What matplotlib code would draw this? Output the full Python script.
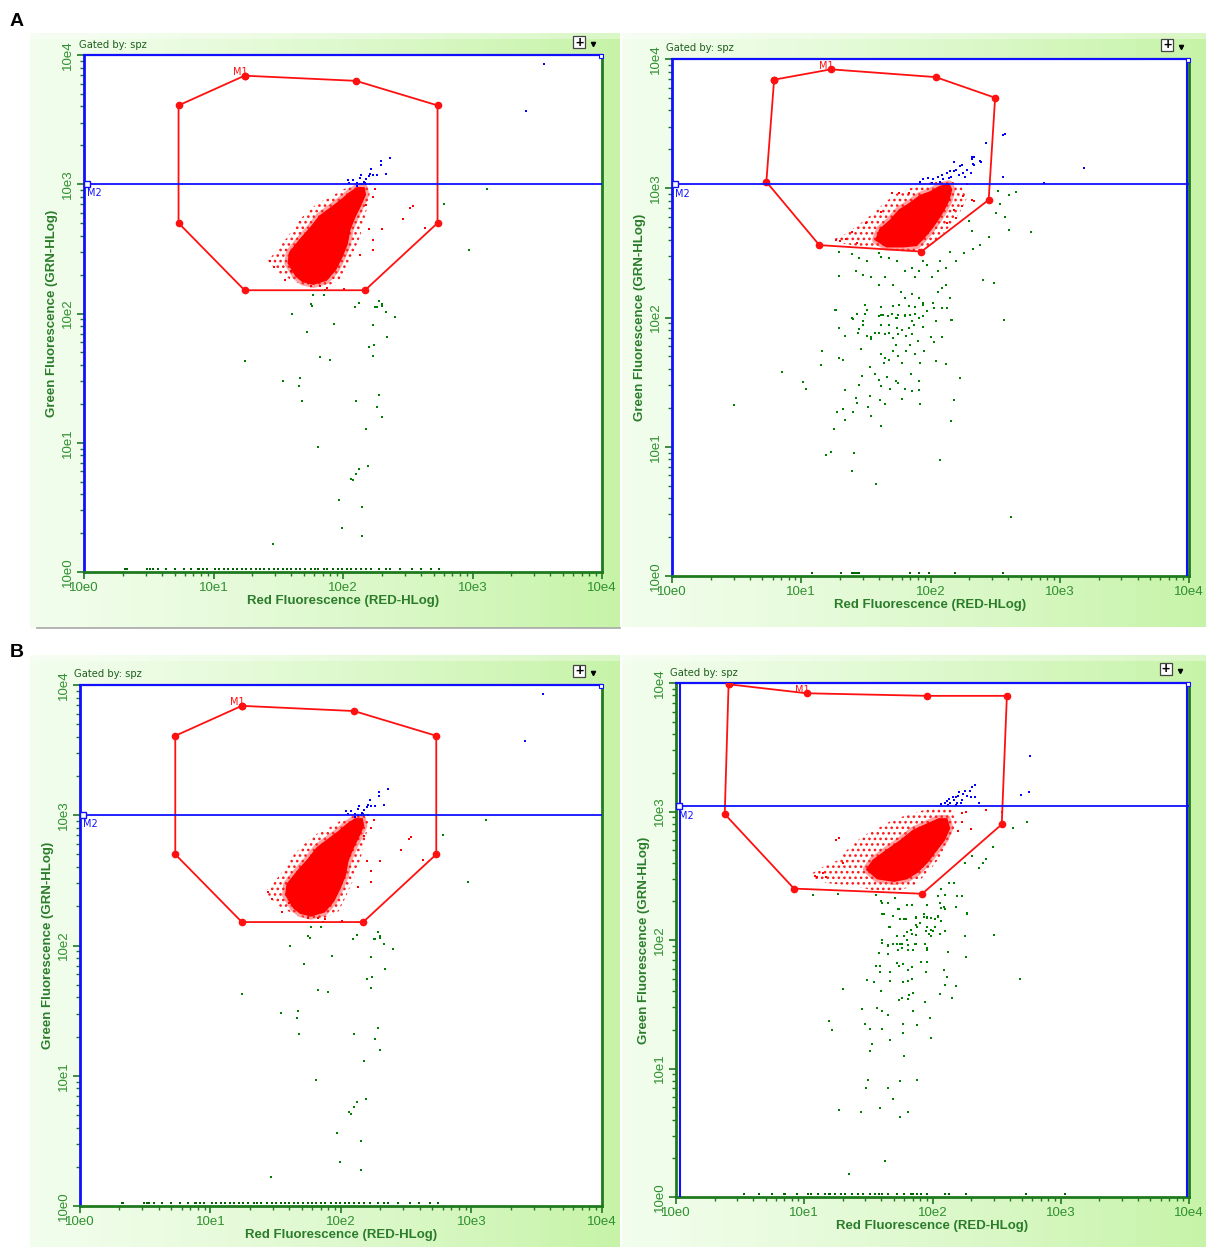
import numpy as np
import matplotlib
matplotlib.use("Agg")
import matplotlib.pyplot as plt
from matplotlib.patches import Polygon, Rectangle

plt.rcParams['font.family'] = ['Liberation Sans', 'DejaVu Sans']
plt.rcParams['hatch.linewidth'] = 1.1

# ---- data: all coordinates in log10 decades (0 = 10e0 ... 4 = 10e4) ----
tick_labels = ['10e0', '10e1', '10e2', '10e3', '10e4']

# panel A left (same acquisition is shown again in B left)
gate_a_left = [(1.24, 3.84), (2.10, 3.80), (2.73, 3.61), (2.73, 2.70),
               (2.17, 2.18), (1.24, 2.18), (0.73, 2.70), (0.73, 3.61)]
m2_a_left = 3.0
core_a_left = [(1.64, 2.29), (1.58, 2.39), (1.59, 2.47), (1.67, 2.57), (1.75, 2.66),
               (1.82, 2.75), (1.90, 2.81), (1.98, 2.87), (2.05, 2.93), (2.11, 2.97),
               (2.16, 2.97), (2.17, 2.92), (2.13, 2.83), (2.09, 2.75), (2.05, 2.65),
               (2.03, 2.54), (1.99, 2.44), (1.94, 2.34), (1.87, 2.26), (1.77, 2.23),
               (1.69, 2.25)]
halo_a_left = [(1.42, 2.41), (1.49, 2.49), (1.57, 2.59), (1.64, 2.70), (1.72, 2.78),
               (1.80, 2.85), (1.90, 2.90), (2.00, 2.96), (2.08, 2.99), (2.16, 3.01),
               (2.21, 2.97), (2.20, 2.88), (2.17, 2.75), (2.13, 2.59), (2.08, 2.47),
               (2.03, 2.36), (1.98, 2.26), (1.87, 2.21), (1.75, 2.20), (1.62, 2.25),
               (1.51, 2.31)]
red_a_left = [(1.75, 2.21), (1.82, 2.21), (1.55, 2.26), (1.44, 2.41), (2.01, 2.19),
              (2.20, 2.65), (2.23, 2.57), (2.23, 2.49), (2.30, 2.65), (2.13, 2.45),
              (2.46, 2.73), (2.52, 2.82), (2.54, 2.83), (2.63, 2.66), (2.23, 2.90),
              (2.25, 2.96), (2.18, 2.84), (1.88, 2.20), (1.60, 2.33), (1.47, 2.36)]
blue_a_left = [(2.04, 3.03), (2.05, 3.01), (2.08, 3.03), (2.11, 3.01), (2.13, 3.05),
               (2.14, 3.07), (2.16, 3.02), (2.17, 3.01), (2.18, 3.04), (2.20, 3.06),
               (2.21, 3.08), (2.22, 3.12), (2.23, 3.07), (2.26, 3.07), (2.29, 3.15),
               (2.29, 3.18), (2.33, 3.08), (2.36, 3.20), (2.11, 2.99), (2.13, 3.00),
               (2.15, 3.00), (2.18, 3.00), (2.21, 3.00), (3.55, 3.93), (3.41, 3.57)]
green_a_left = [(3.11, 2.96), (2.78, 2.85), (2.97, 2.49), (1.86, 2.18), (1.24, 2.17),
                (1.77, 2.14), (1.85, 2.14), (1.76, 2.06), (2.12, 2.08), (2.09, 2.05),
                (2.26, 2.05), (2.28, 2.10), (2.30, 2.06),
                (1.75, 2.07), (1.61, 2.00), (2.25, 2.05), (2.30, 2.07), (2.33, 2.01),
                (2.40, 1.97), (1.72, 1.86), (1.93, 1.92), (2.23, 1.91), (2.34, 1.82),
                (2.20, 1.74), (2.24, 1.76), (2.23, 1.67), (1.82, 1.66), (1.90, 1.64),
                (1.24, 1.63), (1.54, 1.48), (1.67, 1.50), (1.66, 1.44), (1.68, 1.32),
                (2.10, 1.32), (2.28, 1.37), (2.26, 1.28), (2.30, 1.20), (2.18, 1.11),
                (1.81, 0.97), (2.19, 0.82), (2.12, 0.80), (2.10, 0.76), (2.06, 0.72),
                (2.08, 0.71), (1.97, 0.56), (2.15, 0.50), (1.99, 0.34), (2.15, 0.28),
                (1.46, 0.22)]
floor_a_left = [0.32, 0.33, 0.49, 0.51, 0.53, 0.57, 0.63, 0.70, 0.77, 0.83, 0.88, 0.89,
                0.92, 0.95, 1.01, 1.04, 1.08, 1.11, 1.15, 1.18, 1.22, 1.25, 1.29, 1.33,
                1.36, 1.39, 1.43, 1.47, 1.50, 1.54, 1.57, 1.60, 1.64, 1.67, 1.71, 1.75,
                1.78, 1.81, 1.85, 1.88, 1.92, 1.96, 1.99, 2.03, 2.06, 2.10, 2.14, 2.18,
                2.22, 2.28, 2.33, 2.36, 2.44, 2.53, 2.60, 2.68, 2.74]

# panel A right
gate_a_right = [(0.79, 3.84), (1.23, 3.92), (2.04, 3.86), (2.50, 3.70),
                (2.45, 2.91), (1.93, 2.51), (1.14, 2.56), (0.73, 3.05)]
m2_a_right = 3.03
core_a_right = [(1.58, 2.60), (1.61, 2.68), (1.69, 2.75), (1.76, 2.83), (1.84, 2.88),
                (1.92, 2.94), (2.00, 2.97), (2.07, 3.01), (2.14, 3.03), (2.16, 2.99),
                (2.14, 2.91), (2.10, 2.83), (2.05, 2.75), (2.00, 2.68), (1.94, 2.61),
                (1.89, 2.56), (1.79, 2.55), (1.66, 2.55)]
halo_a_right = [(1.26, 2.61), (1.35, 2.65), (1.46, 2.73), (1.56, 2.81), (1.66, 2.90),
                (1.74, 2.96), (1.87, 3.01), (1.97, 3.04), (2.07, 3.06), (2.18, 3.05),
                (2.24, 3.01), (2.28, 2.92), (2.23, 2.82), (2.18, 2.74), (2.10, 2.65),
                (2.02, 2.57), (1.92, 2.52), (1.79, 2.51), (1.61, 2.54), (1.46, 2.55),
                (1.33, 2.57)]
red_a_right = [(1.39, 2.66), (1.50, 2.73), (1.62, 2.82), (1.70, 2.96), (1.76, 2.96),
               (1.83, 2.96), (2.25, 2.94), (2.32, 2.91), (2.34, 2.90), (2.28, 3.03),
               (2.20, 2.77), (2.18, 2.83), (2.13, 2.73), (1.27, 2.60), (1.35, 2.61),
               (1.30, 2.59), (1.43, 2.58), (2.24, 2.86)]
blue_a_right = [(1.94, 3.07), (1.98, 3.08), (2.02, 3.07), (2.06, 3.09), (2.09, 3.10),
                (2.10, 3.07), (2.13, 3.12), (2.14, 3.08), (2.15, 3.13), (2.16, 3.09),
                (2.18, 3.13), (2.18, 3.20), (2.20, 3.14), (2.22, 3.10), (2.23, 3.17),
                (2.24, 3.18), (2.25, 3.12), (2.27, 3.09), (2.28, 3.14), (2.31, 3.12),
                (2.32, 3.24), (2.33, 3.19), (2.34, 3.24), (2.38, 3.21), (1.92, 3.05),
                (2.01, 3.04), (2.07, 3.05), (2.56, 3.41), (2.58, 3.42), (2.43, 3.35),
                (2.56, 3.09), (3.19, 3.16), (2.88, 3.04), (2.32, 3.23), (2.39, 3.20),
                (2.34, 3.18)]
green_a_right = [
    (2.52, 2.98), (2.61, 2.95), (2.66, 2.97), (2.54, 2.88), (2.51, 2.81), (2.58, 2.78),
    (2.61, 2.68), (2.78, 2.66), (2.45, 2.62), (2.38, 2.56), (2.33, 2.53), (2.30, 2.75),
    (2.32, 2.67), (2.26, 2.50), (2.20, 2.44), (2.15, 2.51), (2.12, 2.38), (2.07, 2.44),
    (2.06, 2.36), (2.01, 2.31), (1.97, 2.41), (1.94, 2.44), (1.91, 2.36), (1.88, 2.31),
    (1.86, 2.38), (1.80, 2.36), (1.74, 2.44), (1.68, 2.46), (1.62, 2.47), (1.60, 2.50),
    (1.51, 2.44), (1.45, 2.46), (1.39, 2.49), (1.29, 2.51), (1.42, 2.36), (1.48, 2.33),
    (1.54, 2.31), (1.60, 2.25), (1.65, 2.31), (1.71, 2.25), (1.77, 2.20), (1.80, 2.15),
    (1.86, 2.18), (1.91, 2.15), (1.94, 2.10), (1.97, 2.05), (2.03, 2.07), (2.06, 2.20),
    (2.09, 2.23), (2.12, 2.25), (2.13, 2.07), (2.15, 2.15), (2.41, 2.29), (2.49, 2.27),
    (1.29, 2.32), (1.27, 2.06), (1.39, 2.00), (1.48, 1.97), (1.62, 2.02), (1.68, 1.94),
    (1.74, 2.00), (1.80, 2.02), (1.86, 1.97), (1.91, 2.00), (1.94, 1.93), (2.57, 1.98),
    (2.17, 1.98), (1.29, 1.92),
    (1.26, 2.06), (1.49, 2.10), (1.62, 2.08), (1.71, 2.09), (1.76, 2.10), (1.83, 2.09),
    (1.88, 2.08), (1.94, 2.11), (2.02, 2.11), (2.09, 2.07), (1.40, 1.99), (1.43, 2.03),
    (1.49, 2.03), (1.51, 2.06), (1.60, 2.01), (1.63, 2.02), (1.67, 2.01), (1.70, 2.03),
    (1.73, 2.00), (1.75, 2.02), (1.80, 2.01), (1.84, 2.02), (1.88, 2.03), (1.94, 2.01),
    (1.97, 2.05), (2.16, 1.98), (1.29, 1.92), (1.34, 1.86), (1.44, 1.88), (1.45, 1.91),
    (1.48, 1.94), (1.51, 1.86), (1.54, 1.85), (1.57, 1.88), (1.60, 1.88), (1.62, 1.94),
    (1.65, 1.87), (1.68, 1.88), (1.71, 1.84), (1.74, 1.92), (1.75, 1.87), (1.78, 1.90),
    (1.81, 1.86), (1.83, 1.92), (1.86, 1.87), (1.87, 1.94), (1.90, 1.82), (2.00, 1.85),
    (2.03, 1.81), (2.09, 1.85), (2.04, 1.97), (1.16, 1.74), (1.29, 1.69), (1.32, 1.67),
    (1.46, 1.76), (1.54, 1.83), (1.62, 1.72), (1.64, 1.65), (1.65, 1.69), (1.68, 1.67),
    (1.71, 1.74), (1.73, 1.79), (1.75, 1.70), (1.78, 1.65), (1.81, 1.74), (1.84, 1.79),
    (1.88, 1.72), (1.92, 1.65), (1.95, 1.74), (2.04, 1.66), (2.12, 1.64), (0.85, 1.58),
    (1.15, 1.63), (1.01, 1.50), (1.04, 1.45), (1.34, 1.44), (1.45, 1.48), (1.47, 1.55),
    (1.53, 1.62), (1.57, 1.56), (1.60, 1.52), (1.62, 1.47), (1.66, 1.54), (1.69, 1.45),
    (1.73, 1.51), (1.75, 1.49), (1.80, 1.45), (1.86, 1.43), (1.85, 1.56), (1.91, 1.51),
    (1.91, 1.44), (2.23, 1.53), (0.48, 1.32), (1.28, 1.27), (1.32, 1.29), (1.34, 1.21),
    (1.40, 1.27), (1.42, 1.38), (1.43, 1.34), (1.53, 1.39), (1.52, 1.31), (1.61, 1.36),
    (1.65, 1.33), (1.54, 1.24), (1.62, 1.16), (1.78, 1.37), (1.92, 1.33), (2.18, 1.36),
    (2.16, 1.20), (1.25, 1.14), (1.19, 0.94), (1.23, 0.96), (1.41, 0.95), (1.39, 0.81),
    (1.58, 0.71), (2.07, 0.90), (2.62, 0.46)]
floor_a_right = [1.08, 1.31, 1.39, 1.41, 1.42, 1.44, 1.45, 1.84, 1.91, 1.99, 2.19, 2.56]

# panel B right
gate_b_right = [(0.41, 3.99), (1.02, 3.92), (1.96, 3.90), (2.58, 3.90),
                (2.54, 2.90), (1.92, 2.36), (0.92, 2.40), (0.38, 2.98)]
m2_b_right = 3.04
core_b_right = [(1.49, 2.55), (1.54, 2.62), (1.65, 2.70), (1.75, 2.77), (1.85, 2.85),
                (1.96, 2.90), (2.05, 2.94), (2.11, 2.94), (2.13, 2.87), (2.09, 2.78),
                (2.02, 2.69), (1.96, 2.61), (1.88, 2.53), (1.80, 2.48), (1.70, 2.46),
                (1.57, 2.48)]
halo_b_right = [(1.06, 2.52), (1.15, 2.57), (1.26, 2.62), (1.36, 2.73), (1.46, 2.81),
                (1.59, 2.88), (1.70, 2.94), (1.83, 2.98), (1.93, 3.01), (2.04, 3.04),
                (2.11, 3.04), (2.17, 3.00), (2.19, 2.92), (2.17, 2.85), (2.11, 2.73),
                (2.04, 2.62), (1.96, 2.52), (1.85, 2.42), (1.72, 2.38), (1.57, 2.38),
                (1.39, 2.42), (1.20, 2.44), (1.07, 2.47)]
red_b_right = [(1.27, 2.79), (1.25, 2.78), (1.10, 2.49), (1.15, 2.52), (1.17, 2.49),
               (2.23, 2.99), (2.23, 2.92), (2.26, 3.00), (2.30, 2.86), (2.20, 2.85),
               (2.42, 3.01), (2.54, 3.00), (1.08, 2.50), (1.30, 2.60)]
blue_b_right = [(2.10, 3.07), (2.11, 3.08), (2.13, 3.10), (2.14, 3.07), (2.16, 3.11),
                (2.17, 3.09), (2.18, 3.11), (2.19, 3.07), (2.20, 3.12), (2.21, 3.15),
                (2.22, 3.07), (2.23, 3.09), (2.24, 3.14), (2.25, 3.16), (2.27, 3.12),
                (2.29, 3.16), (2.30, 3.11), (2.31, 3.19), (2.33, 3.21), (2.33, 3.11),
                (2.36, 3.07), (2.69, 3.13), (2.75, 3.15), (2.76, 3.43), (2.07, 3.06),
                (2.12, 3.05), (2.18, 3.05)]
green_b_right = [
    (2.74, 2.92), (2.63, 2.87), (2.47, 2.72), (2.42, 2.63), (2.39, 2.60), (2.36, 2.56),
    (2.25, 2.60), (2.31, 2.65), (2.17, 2.44), (2.13, 2.44), (2.07, 2.40), (2.04, 2.34),
    (2.23, 2.34), (2.19, 2.34), (2.10, 2.35), (2.06, 2.29), (2.07, 2.25), (2.09, 2.26),
    (2.27, 2.21), (1.26, 2.36), (1.07, 2.35), (1.56, 2.35), (1.61, 2.29), (1.65, 2.29),
    (1.71, 2.33), (1.74, 2.24), (1.80, 2.27), (1.84, 2.27), (1.61, 2.20), (1.67, 2.10),
    (1.75, 2.16), (1.78, 2.16), (1.87, 2.18), (1.93, 2.20), (1.96, 2.18), (1.99, 2.17),
    (2.02, 2.16), (2.04, 2.18), (1.88, 2.10), (1.90, 2.13), (1.96, 2.10), (2.00, 2.07),
    (1.84, 2.05), (1.87, 2.04), (1.78, 2.03), (1.72, 2.03), (2.25, 2.03), (2.48, 2.04),
    (1.65, 1.96), (1.75, 1.97), (1.81, 1.96), (1.87, 1.97), (1.94, 1.97), (1.96, 1.94),
    (1.61, 2.00),
    (1.60, 2.30), (1.65, 2.29), (1.73, 2.24), (1.80, 2.27), (1.84, 2.27), (1.96, 2.27),
    (2.06, 2.29), (2.10, 2.24), (2.18, 2.26), (2.27, 2.20), (1.62, 2.20), (1.69, 2.19),
    (1.75, 2.16), (1.79, 2.16), (1.87, 2.17), (1.93, 2.18), (1.96, 2.17), (2.04, 2.19),
    (2.07, 2.15), (2.02, 2.10), (1.99, 2.08), (1.95, 2.07), (1.97, 2.05), (1.99, 2.03),
    (2.06, 2.05), (2.10, 2.07), (2.25, 2.03), (1.66, 2.10), (1.80, 2.06), (1.83, 2.08),
    (1.87, 2.12), (1.90, 2.13), (1.61, 1.98), (1.65, 1.95), (1.69, 1.97), (1.72, 1.97),
    (1.76, 1.97), (1.80, 2.00), (1.86, 1.97), (1.94, 1.97), (1.96, 1.92), (2.12, 1.91),
    (1.58, 1.90), (1.65, 1.89), (1.73, 1.92), (1.76, 1.94), (1.81, 1.92), (1.85, 1.92),
    (1.91, 1.83), (1.96, 1.83), (2.26, 1.87), (1.56, 1.80), (1.59, 1.80), (1.59, 1.75),
    (1.67, 1.75), (1.72, 1.82), (1.74, 1.80), (1.77, 1.81), (1.81, 1.77), (1.84, 1.79),
    (1.95, 1.75), (2.09, 1.77), (1.49, 1.69), (1.54, 1.67), (1.67, 1.68), (1.77, 1.67),
    (1.81, 1.68), (1.84, 1.70), (2.11, 1.71), (2.10, 1.65), (2.18, 1.64), (1.30, 1.62),
    (2.68, 1.70), (1.60, 1.60), (1.74, 1.53), (1.76, 1.55), (1.81, 1.54), (1.82, 1.57),
    (1.85, 1.59), (1.94, 1.52), (2.06, 1.58), (2.15, 1.55), (1.45, 1.46), (1.57, 1.47),
    (1.61, 1.45), (1.65, 1.42), (1.85, 1.45), (1.98, 1.39), (1.19, 1.37), (1.22, 1.30),
    (1.47, 1.35), (1.51, 1.31), (1.61, 1.31), (1.77, 1.35), (1.77, 1.28), (1.88, 1.34),
    (1.99, 1.24), (1.67, 1.22), (1.53, 1.19), (1.51, 1.14), (1.78, 1.10), (1.50, 0.91),
    (1.48, 0.85), (1.65, 0.85), (1.75, 0.90), (1.88, 0.91), (1.69, 0.76), (1.27, 0.68),
    (1.44, 0.66), (1.59, 0.69), (1.75, 0.62), (1.81, 0.66), (1.63, 0.28), (1.35, 0.18)]
floor_b_right = [0.53, 0.65, 0.75, 0.84, 0.85, 0.94, 1.03, 1.05, 1.11, 1.16, 1.19, 1.20,
                 1.24, 1.29, 1.32, 1.37, 1.42, 1.46, 1.51, 1.55, 1.58, 1.61, 1.65, 1.72,
                 1.78, 1.83, 1.85, 1.88, 1.91, 1.96, 2.10, 2.13, 2.26, 2.73, 3.03]

# ---- layout (pixels of the 1206 x 1247 canvas) ----
W, H = 1206, 1247
fig = plt.figure(figsize=(W / 100, H / 100), dpi=100)

bg = fig.add_axes([0, 0, 1, 1], zorder=-5)
bg.set_xlim(0, W)
bg.set_ylim(H, 0)
bg.axis('off')

GREEN_TXT = '#2b7d2b'
TICK_GREEN = '#2f8f2f'
AX_GREEN = '#1f7a1f'
BLUE = '#1010ff'


def panel_background(x0, y0, x1, y1):
    t = np.linspace(0, 1, 300)
    c_left = np.array([0.95, 0.995, 0.93])
    c_right = np.array([0.78, 0.955, 0.66])
    row = c_left + (c_right - c_left) * (t[:, None] ** 1.2)
    img = np.tile(row[None, :, :], (2, 1, 1))
    bg.imshow(img, extent=(x0, x1, y1, y0), aspect='auto', interpolation='bilinear')
    bg.add_patch(Rectangle((x0, y0), x1 - x0, 6, facecolor='white', alpha=0.35, lw=0))


def header(gx, gy, px, py):
    bg.text(gx, gy, 'Gated by: spz', fontsize=7.2, color='#1f5f1f', ha='left', va='center',
            family='DejaVu Sans')
    bg.add_patch(Rectangle((px - 6, py - 6), 12, 12, facecolor='white', edgecolor='#444444', lw=0.9))
    bg.text(px, py + 0.5, '+', fontsize=10, fontweight='bold', ha='center', va='center', color='black')
    bg.plot([px + 14], [py + 2], marker='v', ms=3, color='black')


panels = [
    dict(bg=(30, 33, 620, 628), box=(84, 55, 602, 572), head=(79, 45, 579, 42), m1=0,
         gate=gate_a_left, m2=m2_a_left, core=core_a_left, halo=halo_a_left, red=red_a_left,
         blue=blue_a_left, green=green_a_left, floor=floor_a_left, left='blue', extra=False),
    dict(bg=(622, 33, 1206, 627), box=(672, 59, 1189, 576), head=(666, 48, 1167, 45), m1=1,
         gate=gate_a_right, m2=m2_a_right, core=core_a_right, halo=halo_a_right, red=red_a_right,
         blue=blue_a_right, green=green_a_right, floor=floor_a_right, left='blue', extra=True),
    dict(bg=(30, 655, 620, 1247), box=(80, 685, 602, 1206), head=(74, 674, 579, 671), m1=0,
         gate=gate_a_left, m2=m2_a_left, core=core_a_left, halo=halo_a_left, red=red_a_left,
         blue=blue_a_left, green=green_a_left, floor=floor_a_left, left='blue', extra=False),
    dict(bg=(622, 655, 1206, 1247), box=(676, 683, 1189, 1197), head=(670, 673, 1166, 669), m1=1,
         gate=gate_b_right, m2=m2_b_right, core=core_b_right, halo=halo_b_right, red=red_b_right,
         blue=blue_b_right, green=green_b_right, floor=floor_b_right, left='green', extra=True),
]

minor = [d + np.log10(k) for d in range(4) for k in range(2, 10)]

for p in panels:
    panel_background(*p['bg'])
    header(*p['head'])
    x0, y0, x1, y1 = p['box']
    ax = fig.add_axes([x0 / W, 1 - y1 / H, (x1 - x0) / W, (y1 - y0) / H])
    ax.set_facecolor('white')
    ax.set_xlim(0, 4)
    ax.set_ylim(0, 4)

    ax.spines['left'].set_color(BLUE if p['left'] == 'blue' else AX_GREEN)
    ax.spines['left'].set_linewidth(2.0)
    ax.spines['bottom'].set_color(AX_GREEN)
    ax.spines['bottom'].set_linewidth(2.0)
    ax.spines['top'].set_color(BLUE)
    ax.spines['top'].set_linewidth(1.6)
    ax.spines['right'].set_color(AX_GREEN)
    ax.spines['right'].set_linewidth(2.0)

    ax.set_xticks(range(5))
    ax.set_yticks(range(5))
    ax.set_xticks(minor, minor=True)
    ax.set_yticks(minor, minor=True)
    ax.set_xticklabels(tick_labels)
    ax.set_yticklabels(tick_labels, rotation=90, va='center')
    ax.tick_params(which='major', length=5, width=1.2, color=AX_GREEN, labelcolor=TICK_GREEN,
                   labelsize=9.5, pad=2)
    ax.tick_params(which='minor', length=3, width=1.0, color=AX_GREEN)
    ax.set_xlabel('Red Fluorescence (RED-HLog)', fontsize=9.5, fontweight='bold',
                  color=GREEN_TXT, labelpad=1)
    ax.set_ylabel('Green Fluorescence (GRN-HLog)', fontsize=9.5, fontweight='bold',
                  color=GREEN_TXT, labelpad=3)

    # red population: speckled outer halo, soft-edged dense core, stray events
    ax.add_patch(Polygon(p['halo'], closed=True, facecolor='none', edgecolor='#ff1a1a',
                         lw=0, hatch='...', zorder=2))
    ax.add_patch(Polygon(p['core'], closed=True, facecolor='none', edgecolor='#ff3030',
                         lw=6, alpha=0.45, joinstyle='round', zorder=3))
    ax.add_patch(Polygon(p['core'], closed=True, facecolor='#ff0000', edgecolor='#ff0000',
                         lw=1.5, zorder=3))
    red = np.array(p['red'])
    ax.scatter(red[:, 0], red[:, 1], s=2.5, marker='s', color='#ff0000', lw=0, zorder=3)
    blue = np.array(p['blue'])
    ax.scatter(blue[:, 0], blue[:, 1], s=2.5, marker='s', color='#0000ff', lw=0, zorder=3)
    green = np.array(p['green'])
    ax.scatter(green[:, 0], green[:, 1], s=2.5, marker='s', color='#008000', lw=0, zorder=3)
    fl = np.array(p['floor'])
    ax.scatter(fl, np.full(len(fl), 0.02), s=2.5, marker='s', color='#006400', lw=0,
               zorder=4, clip_on=False)

    # M1 gate
    g = np.array(p['gate'] + [p['gate'][0]])
    ax.plot(g[:, 0], g[:, 1], color='#ff1010', lw=1.3, marker='o', ms=4.5, zorder=5)
    ax.annotate('M1', p['gate'][p['m1']], xytext=(-3, -1), textcoords='offset points',
                ha='center', va='bottom', fontsize=7, color='#ff1010', family='DejaVu Sans')

    # M2 marker line
    ax.axhline(p['m2'], color=BLUE, lw=1.3, zorder=6)
    ax.plot([0.02], [p['m2']], marker='s', ms=5, mfc='white', mec=BLUE, mew=1.0,
            clip_on=False, zorder=7)
    ax.annotate('M2', (0, p['m2']), xytext=(2, -3), textcoords='offset points',
                ha='left', va='top', fontsize=7, color=BLUE, family='DejaVu Sans')
    ax.plot([3.99], [3.99], marker='s', ms=3.5, mfc='white', mec=BLUE, mew=0.8,
            clip_on=False, zorder=7)
    if p['extra']:
        ax.axvline(3.985, color=BLUE, lw=1.5, zorder=6)
    if p['left'] == 'green':
        ax.axvline(0.03, color=BLUE, lw=1.5, zorder=6)

# gray frame line under panel A left
bg.plot([37, 620], [628, 628], color='#a8a8a8', lw=1.2)

fig.text(17 / W, 1 - 22 / H, 'A', fontsize=14, fontweight='bold', ha='center', va='center')
fig.text(17 / W, 1 - 652 / H, 'B', fontsize=14, fontweight='bold', ha='center', va='center')

fig.savefig('out.png', dpi=100, facecolor='white')
